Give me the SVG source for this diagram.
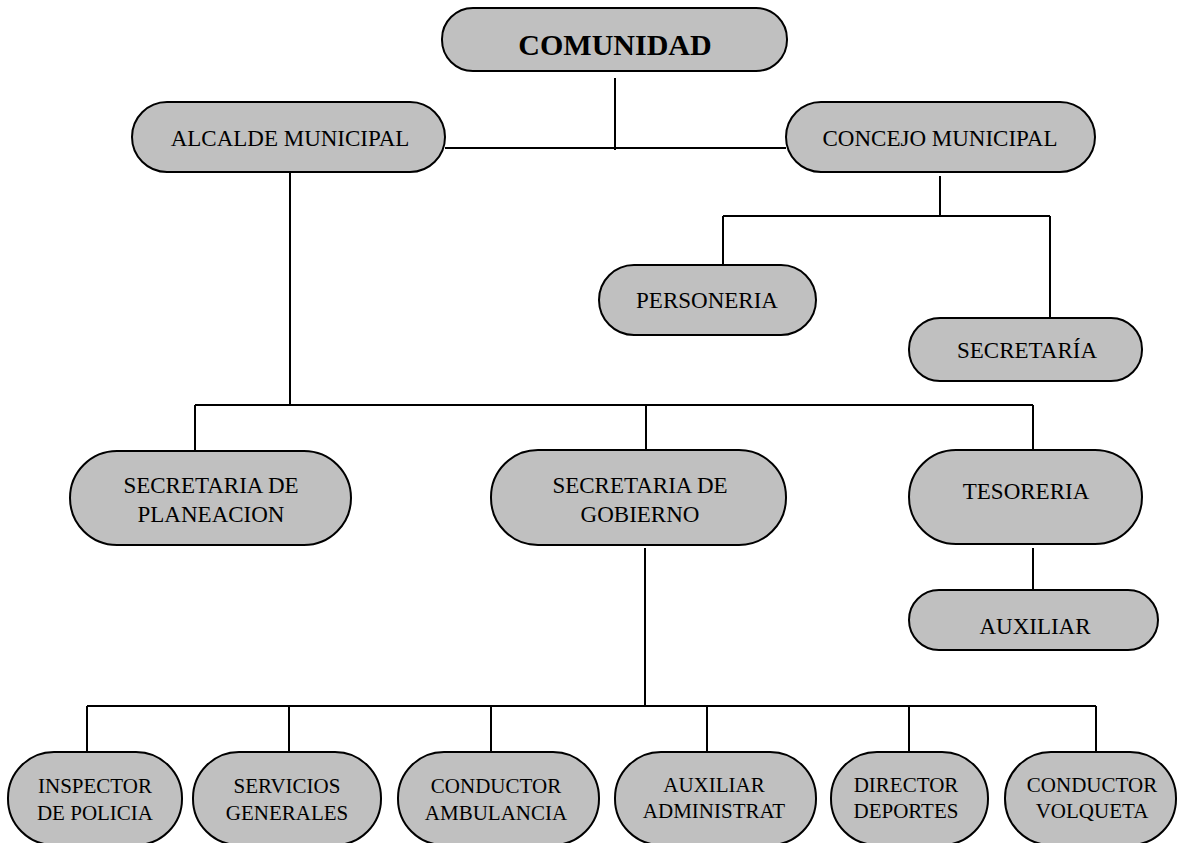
<svg xmlns="http://www.w3.org/2000/svg" width="1177" height="843" viewBox="0 0 1177 843">
<style>
.n{fill:#c0c0c0;stroke:#000;stroke-width:2}
.t{font-family:"Liberation Serif","Times New Roman",serif;font-size:23px;fill:#000;text-anchor:middle}
.s{font-size:21px}
.b{font-weight:bold;font-size:30px}
.c{fill:none;stroke:#000;stroke-width:2}
</style>
<rect width="1177" height="843" fill="#fff"/>
<g id="connectors" class="c">
<path d="M615 78V150"/>
<path d="M445 148H786"/>
<path d="M290 172V405"/>
<path d="M940 176V216M723 216H1050M723 216V265M1050 216V318"/>
<path d="M195 405H1033M195 405V451M646 405V450M1033 405V450"/>
<path d="M1033 548V590"/>
<path d="M645 548V706M87 706H1096M87 706V752M289 706V752M491 706V752M707 706V752M909 706V752M1096 706V752"/>
</g>
<g id="comunidad"><rect class="n" x="442" y="8" width="345" height="63" rx="31"/><text class="t b" x="615" y="55">COMUNIDAD</text></g>
<g id="alcalde"><rect class="n" x="132" y="102" width="313" height="70" rx="35"/><text class="t" x="290" y="146">ALCALDE MUNICIPAL</text></g>
<g id="concejo"><rect class="n" x="786" y="102" width="309" height="70" rx="35"/><text class="t" x="940" y="146">CONCEJO MUNICIPAL</text></g>
<g id="personeria"><rect class="n" x="599" y="265" width="217" height="70" rx="35"/><text class="t" x="707" y="308">PERSONERIA</text></g>
<g id="secretaria"><rect class="n" x="909" y="318" width="233" height="63" rx="31"/><text class="t" x="1027" y="358">SECRETARÍA</text></g>
<g id="planeacion"><rect class="n" x="70" y="451" width="281" height="94" rx="47"/><text class="t" x="211" y="493">SECRETARIA DE</text><text class="t" x="211" y="522">PLANEACION</text></g>
<g id="gobierno"><rect class="n" x="491" y="450" width="295" height="95" rx="47"/><text class="t" x="640" y="493">SECRETARIA DE</text><text class="t" x="640" y="522">GOBIERNO</text></g>
<g id="tesoreria"><rect class="n" x="909" y="450" width="233" height="94" rx="47"/><text class="t" x="1026" y="499">TESORERIA</text></g>
<g id="auxiliar"><rect class="n" x="909" y="590" width="249" height="60" rx="30"/><text class="t" x="1035" y="634">AUXILIAR</text></g>
<g id="inspector"><rect class="n" x="8" y="752" width="174" height="93" rx="46"/><text class="t s" x="95" y="793">INSPECTOR</text><text class="t s" x="95" y="820">DE POLICIA</text></g>
<g id="servicios"><rect class="n" x="193" y="752" width="188" height="93" rx="46"/><text class="t s" x="287" y="793">SERVICIOS</text><text class="t s" x="287" y="820">GENERALES</text></g>
<g id="ambulancia"><rect class="n" x="398" y="752" width="201" height="93" rx="46"/><text class="t s" x="496" y="793">CONDUCTOR</text><text class="t s" x="496" y="820">AMBULANCIA</text></g>
<g id="administrat"><rect class="n" x="615" y="752" width="201" height="93" rx="46"/><text class="t s" x="714" y="792">AUXILIAR</text><text class="t s" x="714" y="818">ADMINISTRAT</text></g>
<g id="deportes"><rect class="n" x="831" y="752" width="157" height="93" rx="46"/><text class="t s" x="906" y="792">DIRECTOR</text><text class="t s" x="906" y="818">DEPORTES</text></g>
<g id="volqueta"><rect class="n" x="1005" y="752" width="171" height="93" rx="46"/><text class="t s" x="1092" y="792">CONDUCTOR</text><text class="t s" x="1092" y="818">VOLQUETA</text></g>
</svg>
